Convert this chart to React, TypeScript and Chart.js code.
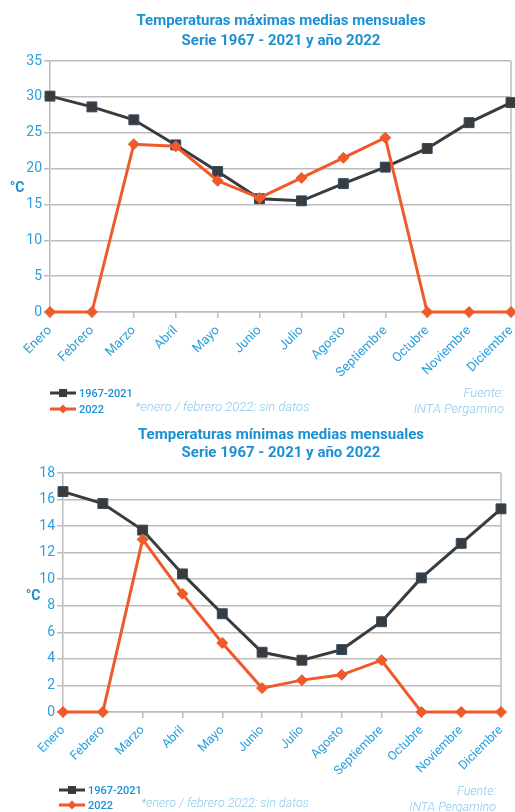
import React, { useEffect, useRef } from "react";
import { Chart, registerables } from "chart.js";
Chart.register(...registerables);

const months = ["Enero", "Febrero", "Marzo", "Abril", "Mayo", "Junio", "Julio", "Agosto", "Septiembre", "Octubre", "Noviembre", "Diciembre"];
const maxHist = [30.1, 28.6, 26.8, 23.3, 19.6, 15.8, 15.5, 17.9, 20.2, 22.8, 26.4, 29.2];
const max2022 = [0, 0, 23.4, 23.1, 18.3, 15.9, 18.7, 21.5, 24.3, 0, 0, 0];
const minHist = [16.6, 15.7, 13.7, 10.4, 7.4, 4.5, 3.9, 4.7, 6.8, 10.1, 12.7, 15.3];
const min2022 = [0, 0, 13.0, 8.9, 5.2, 1.8, 2.4, 2.8, 3.9, 0, 0, 0];
const seriesNames = ["1967-2021", "2022"];

const DARK = "#3b3b3b";
const ORANGE = "#ef5a2a";
const BLUE = "#1b90d2";
const TICK_BLUE = "#2a9fdc";
const LIGHT_BLUE = "#8ccaea";
const GRID = "#bcbcbc";

const rightBorder = {
  id: "rightBorder",
  beforeDatasetsDraw(chart: any) {
    const { ctx, chartArea } = chart;
    ctx.save();
    ctx.strokeStyle = GRID;
    ctx.lineWidth = 1.5;
    ctx.beginPath();
    ctx.moveTo(chartArea.right, chartArea.top);
    ctx.lineTo(chartArea.right, chartArea.bottom);
    ctx.stroke();
    ctx.restore();
  },
};

type CP = {
  hist: number[];
  y22: number[];
  yMax: number;
  step: number;
  width: number;
  height: number;
  padTop: number;
  padRight: number;
  yWidth: number;
  xHeight: number;
  tickFont: number;
  xFont: number;
};

function LineChart(p: CP) {
  const ref = useRef<HTMLCanvasElement>(null);
  useEffect(() => {
    const chart = new Chart(ref.current!, {
      type: "line",
      data: {
        labels: months,
        datasets: [
          {
            label: seriesNames[0],
            data: p.hist,
            borderColor: DARK,
            backgroundColor: DARK,
            borderWidth: 3,
            pointStyle: "rect",
            pointRadius: 7,
            pointBorderWidth: 1,
            pointBorderColor: "#2f4c66",
            pointBackgroundColor: DARK,
            order: 1,
            tension: 0,
            clip: false,
          },
          {
            label: seriesNames[1],
            data: p.y22,
            borderColor: ORANGE,
            backgroundColor: ORANGE,
            borderWidth: 3,
            pointStyle: "rectRot",
            pointRadius: 5.5,
            pointBorderWidth: 1,
            pointBorderColor: ORANGE,
            pointBackgroundColor: ORANGE,
            order: 0,
            tension: 0,
            clip: false,
          },
        ],
      },
      options: {
        responsive: false,
        animation: false,
        layout: { autoPadding: false, padding: { top: p.padTop, right: p.padRight, left: 0, bottom: 0 } },
        plugins: { legend: { display: false }, title: { display: false }, tooltip: { enabled: false } },
        scales: {
          x: {
            afterFit: (s: any) => {
              s.height = p.xHeight;
              s.paddingLeft = 0;
              s.paddingRight = 0;
            },
            grid: { drawOnChartArea: false, drawTicks: true, tickLength: 6, color: GRID, lineWidth: 1.5 },
            border: { display: true, color: GRID, width: 1.5 },
            ticks: {
              color: TICK_BLUE,
              minRotation: 45,
              maxRotation: 45,
              autoSkip: false,
              padding: 5,
              font: { family: "Roboto", size: p.xFont },
            },
          },
          y: {
            min: 0,
            max: p.yMax,
            afterFit: (s: any) => {
              s.width = p.yWidth;
            },
            ticks: { stepSize: p.step, color: TICK_BLUE, padding: 2, font: { family: "Roboto", size: p.tickFont } },
            grid: { color: GRID, lineWidth: 1.5, tickLength: 6 },
            border: { display: true, color: GRID, width: 1.5 },
          },
        },
      },
      plugins: [rightBorder],
    });
    return () => chart.destroy();
  }, []);
  return <canvas ref={ref} width={p.width} height={p.height} style={{ display: "block" }} />;
}

function LegendItem({ color, square, text, x, y }: { color: string; square: boolean; text: string; x: number; y: number }) {
  return (
    <div style={{ position: "absolute", left: x, top: y - 8, height: 16, display: "flex", alignItems: "center", whiteSpace: "nowrap" }}>
      <svg width={27} height={12} style={{ display: "block" }}>
        <line x1={0} y1={6} x2={26} y2={6} stroke={color} strokeWidth={3} />
        {square ? (
          <rect x={9} y={2} width={8} height={8} fill={color} />
        ) : (
          <polygon points="13,1.5 17.5,6 13,10.5 8.5,6" fill={color} />
        )}
      </svg>
      <span style={{ marginLeft: 2, fontFamily: "Roboto", fontWeight: 500, fontSize: 11, color: BLUE }}>{text}</span>
    </div>
  );
}

const abs = (left: number, top: number, extra: any = {}) => ({ position: "absolute" as const, left, top, whiteSpace: "nowrap" as const, ...extra });

export default function App() {
  const titleStyle = { fontFamily: "Roboto", fontWeight: 700, fontSize: 15, color: BLUE, transform: "translate(-50%, -50%)", lineHeight: "18px" };
  const noteStyle = { fontFamily: "Roboto", fontWeight: 300, fontStyle: "italic", fontSize: 13, color: LIGHT_BLUE, lineHeight: "15px" };
  const note2 = { ...noteStyle, fontSize: 12.5 };
  return (
    <div style={{ position: "absolute", left: 0, top: 0, width: 515, height: 812, background: "#fff", overflow: "hidden" }}>
      <div style={abs(0, 0)}>
        <LineChart hist={maxHist} y22={max2022} yMax={35} step={5} width={515} height={420} padTop={61} padRight={4} yWidth={50} xHeight={108} tickFont={14} xFont={13} />
      </div>
      <div style={abs(0, 420)}>
        <LineChart hist={minHist} y22={min2022} yMax={18} step={2} width={515} height={392} padTop={53} padRight={14} yWidth={63} xHeight={100} tickFont={14} xFont={12.5} />
      </div>

      <div style={abs(281, 20, titleStyle)}>Temperaturas máximas medias mensuales</div>
      <div style={abs(281, 40, titleStyle)}>Serie 1967 - 2021 y año 2022</div>
      <div style={abs(17, 187, { ...titleStyle, fontSize: 14 })}>°C</div>

      <LegendItem color={DARK} square text={seriesNames[0]} x={50} y={393} />
      <LegendItem color={ORANGE} square={false} text={seriesNames[1]} x={50} y={409} />
      <div style={abs(135, 399, noteStyle)}>*enero / febrero 2022: sin datos</div>
      <div style={abs(0, 385, { ...noteStyle, width: 504, textAlign: "right" })}>Fuente:</div>
      <div style={abs(0, 401, { ...noteStyle, width: 504, textAlign: "right" })}>INTA Pergamino</div>

      <div style={abs(281, 434, titleStyle)}>Temperaturas mínimas medias mensuales</div>
      <div style={abs(281, 452, titleStyle)}>Serie 1967 - 2021 y año 2022</div>
      <div style={abs(33, 595, { ...titleStyle, fontSize: 14 })}>°C</div>

      <LegendItem color={DARK} square text={seriesNames[0]} x={59} y={790} />
      <LegendItem color={ORANGE} square={false} text={seriesNames[1]} x={59} y={805} />
      <div style={abs(141, 795, note2)}>*enero / febrero 2022: sin datos</div>
      <div style={abs(0, 783, { ...note2, width: 496, textAlign: "right" })}>Fuente:</div>
      <div style={abs(0, 799, { ...note2, width: 496, textAlign: "right" })}>INTA Pergamino</div>
    </div>
  );
}
